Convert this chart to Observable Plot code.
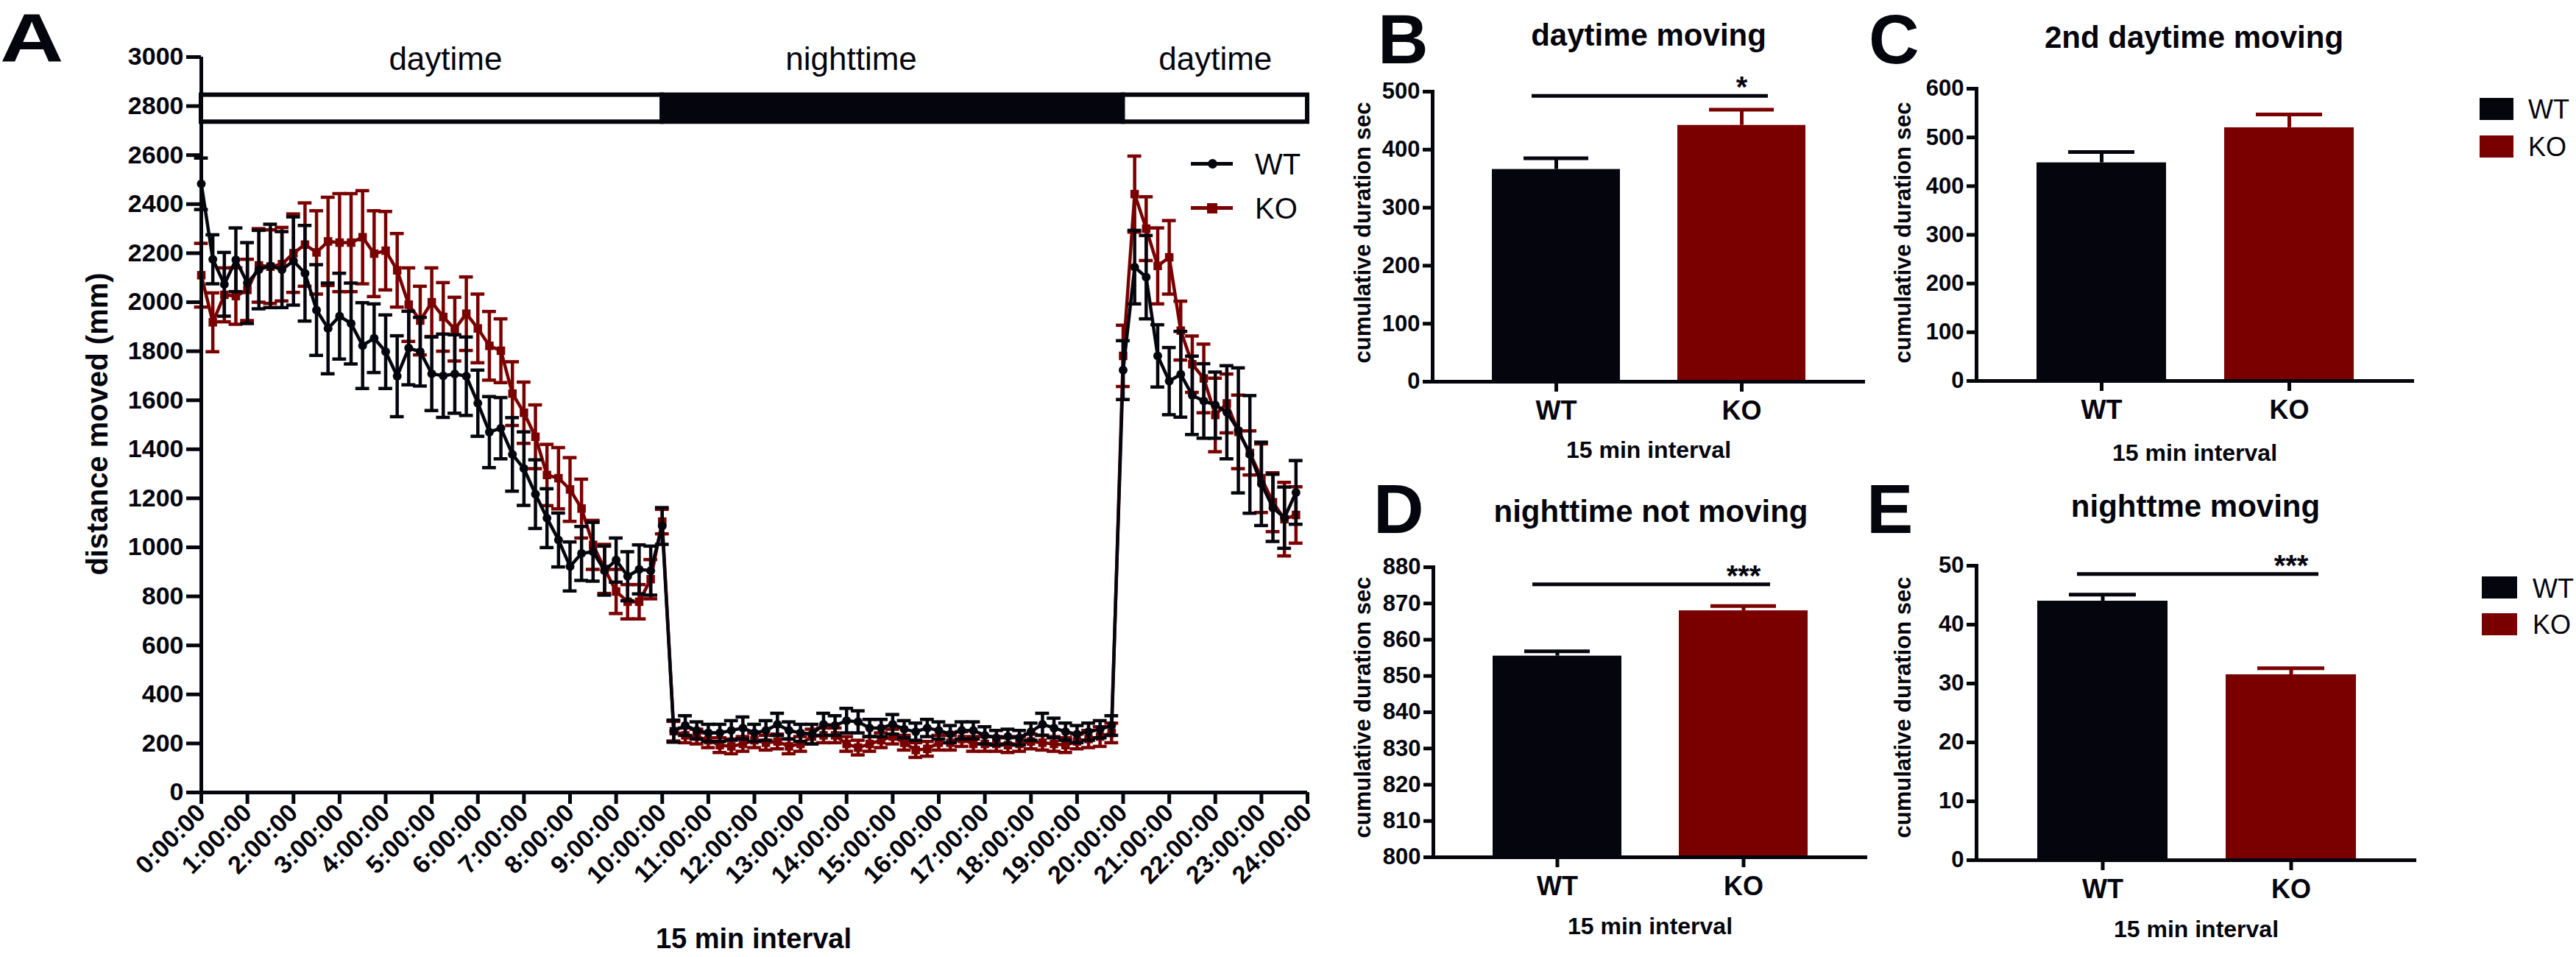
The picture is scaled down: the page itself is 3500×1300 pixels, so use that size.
<!DOCTYPE html>
<html><head><meta charset="utf-8">
<script src="https://cdn.jsdelivr.net/npm/d3@7"></script>
<script src="https://cdn.jsdelivr.net/npm/@observablehq/plot@0.6"></script>
<style>
body{margin:0;background:#fff;width:3500px;height:1300px;position:relative;overflow:hidden;font-family:"Liberation Sans",Arial,sans-serif;color:#05050d}
.abs{position:absolute;white-space:nowrap;line-height:1}
.panel{position:absolute}
.sw{position:absolute}
</style></head><body>
<script>
// ---------------- data ----------------
const groups = ["WT", "KO"];
const hourTicks = d3.range(0, 25);
const intervals = d3.range(96).map(i => i / 4); // 15-min interval start, in hours

const wtMean = [2483,2175,2073,2173,2078,2133,2148,2133,2168,2118,1968,1893,1943,1913,1823,1853,1798,1698,1813,1798,1708,1700,1707,1698,1588,1470,1486,1379,1321,1217,1119,1030,922,975,982,905,948,882,910,905,1087,
 250,273,253,243,243,253,263,243,253,278,253,243,238,278,273,293,288,263,263,278,258,248,263,253,238,253,253,233,223,228,223,248,278,263,248,238,248,258,273,
 1723,2143,2102,1781,1678,1706,1620,1597,1580,1551,1477,1379,1259,1161,1121,1224];
const wtSem = [105,100,130,130,165,160,170,155,180,195,185,185,175,165,175,140,150,165,150,140,150,170,160,160,135,145,125,150,150,140,120,110,100,110,120,100,90,100,100,100,75,
 45,40,35,35,35,40,45,35,40,45,35,35,40,45,40,50,45,35,35,40,35,35,35,35,35,35,35,35,30,30,30,35,45,40,35,35,35,35,40,
 120,150,170,127,137,175,160,152,135,190,255,240,170,137,125,130];
const koMean = [2110,1918,2030,2025,2050,2150,2145,2155,2200,2235,2203,2248,2243,2243,2265,2198,2210,2130,1990,1925,2000,1940,1890,1953,1893,1822,1802,1627,1549,1451,1295,1282,1236,1158,1010,912,820,778,778,870,1105,
 250,233,228,213,193,188,198,213,203,208,188,198,228,233,233,198,183,198,213,228,203,173,178,203,203,218,198,198,198,193,198,208,203,198,193,208,218,228,243,
 1781,2441,2300,2148,2183,1884,1747,1689,1540,1587,1471,1385,1282,1184,1115,1132];
const koSem = [130,120,110,115,125,150,150,150,160,170,170,180,200,200,190,175,160,150,150,140,140,140,130,150,140,140,130,130,125,130,125,125,130,120,100,100,90,70,70,80,50,
 40,30,30,30,30,30,30,30,30,30,30,30,30,30,30,30,30,30,30,30,30,30,30,30,30,30,30,30,30,30,30,30,30,30,30,30,35,40,40,
 125,155,130,155,150,120,115,140,150,120,150,90,140,120,150,115];

const periodNames = ["daytime", "nighttime", "daytime"];
const periodStart = [0, 10, 20];
const periodEnd = [10, 20, 24];
const periodLabelAt = [5.3, 14.1, 22];

// bar panels: mean and SEM for WT, KO
const dayMoving = [366, 442], dayMovingSem = [19, 27];
const day2Moving = [448, 520], day2MovingSem = [22, 27];
const nightStill = [855.5, 868], nightStillSem = [1.3, 1.3];
const nightMoving = [44, 31.5], nightMovingSem = [1.1, 1.1];

// ---------------- style ----------------
const INK = "#05050d", RED = "#7a0000";
const FONT = '"Liberation Sans", Arial, sans-serif';

function txt(s, o) {
  const d = document.createElement("div");
  d.className = "abs";
  d.textContent = s;
  const fs = o.fs, lh = o.lh || 1;
  d.style.fontSize = fs + "px";
  d.style.lineHeight = lh;
  d.style.fontWeight = o.weight || "bold";
  if (o.rotate) {
    d.style.left = o.x + "px"; d.style.top = o.y + "px";
    d.style.transform = "translate(-50%,-50%) rotate(-90deg)";
  } else {
    d.style.left = o.x + "px";
    d.style.top = (o.baseline - ((lh - 1.117) / 2 + 0.905) * fs) + "px";
    let t = "";
    if (o.anchor === "middle") t += "translateX(-50%) ";
    if (o.sx) { t += `scaleX(${o.sx})`; d.style.transformOrigin = "left"; }
    if (t) d.style.transform = t;
  }
  document.body.appendChild(d);
  return d;
}
function box(x, y, w, h, css) {
  const d = document.createElement("div");
  d.className = "sw";
  Object.assign(d.style, {left: x + "px", top: y + "px", width: w + "px", height: h + "px"}, css);
  document.body.appendChild(d);
}
function place(svg, left, top) {
  const w = document.createElement("div");
  w.className = "panel"; w.style.left = left + "px"; w.style.top = top + "px";
  w.appendChild(svg); document.body.appendChild(w);
}

// ---------------- panel A ----------------
const wt = intervals.map((t, i) => ({t, mean: wtMean[i], sem: wtSem[i]}));
const ko = intervals.map((t, i) => ({t, mean: koMean[i], sem: koSem[i]}));
const periods = periodNames.map((name, i) => ({name, start: periodStart[i], end: periodEnd[i], fill: name === "nighttime" ? INK : "#fff", at: periodLabelAt[i]}));
const cap = 0.15;

function seriesMarks(data, color, symbol, r) {
  return [
    Plot.ruleX(data, {x: "t", y1: d => d.mean - d.sem, y2: d => d.mean + d.sem, stroke: color, strokeWidth: 4.5}),
    Plot.ruleY(data, {y: d => d.mean + d.sem, x1: d => d.t - cap, x2: d => d.t + cap, stroke: color, strokeWidth: 4.5}),
    Plot.ruleY(data, {y: d => d.mean - d.sem, x1: d => d.t - cap, x2: d => d.t + cap, stroke: color, strokeWidth: 4.5}),
    Plot.line(data, {x: "t", y: "mean", stroke: color, strokeWidth: 4.5}),
    Plot.dot(data, {x: "t", y: "mean", symbol, r, fill: color, stroke: null})
  ];
}

const plotA = Plot.plot({
  width: 1800, height: 1300,
  marginLeft: 273, marginRight: 24, marginTop: 77, marginBottom: 224,
  style: {fontFamily: FONT, fontSize: "33px", fontWeight: "bold", color: INK, background: "transparent", overflow: "visible"},
  x: {domain: [0, 24], label: null},
  y: {domain: [0, 3000], label: null},
  marks: [
    Plot.rect(periods, {x1: "start", x2: "end", y1: 2735, y2: 2845, fill: "fill", stroke: INK, strokeWidth: 6}),
    Plot.text(periods, {x: "at", y: 2990, text: "name", fontSize: 44, fontWeight: "normal", fill: INK}),
    ...seriesMarks(ko, RED, "square", 6.5),
    ...seriesMarks(wt, INK, "circle", 6),
    Plot.ruleX([0], {stroke: INK, strokeWidth: 5}),
    Plot.ruleY([0], {stroke: INK, strokeWidth: 5}),
    Plot.axisY({ticks: d3.range(0, 3001, 200), tickFormat: d => String(d), tickSize: 20, tickPadding: 4, strokeWidth: 5, fontSize: 34, label: null}),
    Plot.axisX({ticks: hourTicks, tickFormat: h => `${h}:00:00`, tickSize: 16, tickPadding: 6, tickRotate: -45, strokeWidth: 5, fontSize: 34, label: null})
  ]
});
place(plotA, 0, 0);

// ---------------- bar panels ----------------
function barPanel({means, sems, yDomain, yTicks, left, top, width, height, mt, mb, ml, mr, sig}) {
  const rows = groups.map((g, i) => ({g, v: means[i], s: sems[i]}));
  const marks = [
    Plot.barY(rows, {x: "g", y1: yDomain[0], y2: "v", fill: d => d.g === "WT" ? INK : RED}),
    Plot.ruleX(rows, {x: "g", y1: "v", y2: d => d.v + d.s, stroke: d => d.g === "WT" ? INK : RED, strokeWidth: 5}),
    Plot.tickY(rows, {x: "g", y: d => d.v + d.s, stroke: d => d.g === "WT" ? INK : RED, strokeWidth: 5, inset: 43}),
    Plot.frame({anchor: "left", stroke: INK, strokeWidth: 5}),
    Plot.ruleY([yDomain[0]], {stroke: INK, strokeWidth: 5}),
    Plot.axisY({ticks: yTicks, tickFormat: d => String(d), tickSize: 13, tickPadding: 4, strokeWidth: 5, fontSize: 31, label: null}),
    Plot.axisX({tickSize: 14, tickPadding: 12, strokeWidth: 5, fontSize: 36, label: null})
  ];
  if (sig) {
    marks.push(Plot.ruleY([sig], {y: "y", x1: () => "WT", x2: () => "KO", insetLeft: 54, insetRight: 51, stroke: INK, strokeWidth: 5}));
    marks.push(Plot.text([sig], {x: () => "KO", y: "y", text: "stars", lineAnchor: "bottom", dy: 2, fontSize: 40, fill: INK}));
  }
  const p = Plot.plot({
    width, height, marginTop: mt, marginBottom: mb, marginLeft: ml, marginRight: mr,
    style: {fontFamily: FONT, fontSize: "31px", fontWeight: "bold", color: INK, background: "transparent", overflow: "visible"},
    x: {domain: groups, paddingInner: 0.31, paddingOuter: 0.32, label: null},
    y: {domain: yDomain, label: null},
    marks
  });
  place(p, left, top);
}

barPanel({means: dayMoving, sems: dayMovingSem, yDomain: [0, 500], yTicks: d3.range(0, 501, 100),
  left: 1800, top: 0, width: 760, height: 640, mt: 124, mb: 122, ml: 146, mr: 26, sig: {y: 492.6, stars: "*"}});
barPanel({means: day2Moving, sems: day2MovingSem, yDomain: [0, 600], yTicks: d3.range(0, 601, 100),
  left: 2560, top: 0, width: 760, height: 640, mt: 120, mb: 123, ml: 125, mr: 40, sig: null});
barPanel({means: nightStill, sems: nightStillSem, yDomain: [800, 880], yTicks: d3.range(800, 881, 10),
  left: 1800, top: 640, width: 760, height: 660, mt: 130, mb: 136, ml: 147, mr: 23, sig: {y: 875.3, stars: "***"}});
barPanel({means: nightMoving, sems: nightMovingSem, yDomain: [0, 50], yTicks: d3.range(0, 51, 10),
  left: 2560, top: 640, width: 760, height: 660, mt: 128, mb: 132, ml: 125, mr: 37, sig: {y: 48.6, stars: "***"}});

// ---------------- text: letters, titles ----------------
txt("A", {x: 0, baseline: 84, fs: 92, sx: 1.3, lh: 0.8});
txt("B", {x: 1872, baseline: 86, fs: 95, lh: 0.8});
txt("C", {x: 2539, baseline: 86, fs: 95, lh: 0.8});
txt("D", {x: 1866, baseline: 724, fs: 95, lh: 0.8});
txt("E", {x: 2536, baseline: 724, fs: 95, lh: 0.8});

txt("daytime moving", {x: 2240, baseline: 63, fs: 42, anchor: "middle"});
txt("2nd daytime moving", {x: 2981, baseline: 66, fs: 42, anchor: "middle"});
txt("nighttime not moving", {x: 2243, baseline: 710, fs: 42, anchor: "middle"});
txt("nighttme moving", {x: 2983, baseline: 703, fs: 42, anchor: "middle"});

txt("distance moved (mm)", {x: 132, y: 576, fs: 40, rotate: true});
txt("cumulative duration sec", {x: 1851, y: 316, fs: 31, rotate: true});
txt("cumulative duration sec", {x: 2585, y: 316, fs: 31, rotate: true});
txt("cumulative duration sec", {x: 1851, y: 961, fs: 31, rotate: true});
txt("cumulative duration sec", {x: 2585, y: 961, fs: 31, rotate: true});

txt("15 min interval", {x: 1024, baseline: 1288, fs: 38, anchor: "middle"});
txt("15 min interval", {x: 2240, baseline: 622, fs: 32, anchor: "middle"});
txt("15 min interval", {x: 2982, baseline: 626, fs: 32, anchor: "middle"});
txt("15 min interval", {x: 2242, baseline: 1269, fs: 32, anchor: "middle"});
txt("15 min interval", {x: 2984, baseline: 1273, fs: 32, anchor: "middle"});

// ---------------- legends ----------------
// panel A line legend
box(1618, 220, 57, 5, {background: INK});
box(1641, 216, 13, 13, {background: INK, borderRadius: "50%"});
txt("WT", {x: 1705, baseline: 237, fs: 40, weight: "normal"});
box(1618, 280, 57, 5, {background: RED});
box(1640, 276, 14, 14, {background: RED});
txt("KO", {x: 1705, baseline: 297, fs: 40, weight: "normal"});
// panel C legend
box(3369, 133, 46, 30, {background: INK});
box(3369, 184, 46, 30, {background: RED});
txt("WT", {x: 3435, baseline: 161, fs: 36, weight: "normal"});
txt("KO", {x: 3435, baseline: 212, fs: 36, weight: "normal"});
// panel E legend
box(3372, 783, 48, 30, {background: INK});
box(3372, 833, 48, 30, {background: RED});
txt("WT", {x: 3441, baseline: 812, fs: 36, weight: "normal"});
txt("KO", {x: 3441, baseline: 861, fs: 36, weight: "normal"});
</script>
</body></html>
